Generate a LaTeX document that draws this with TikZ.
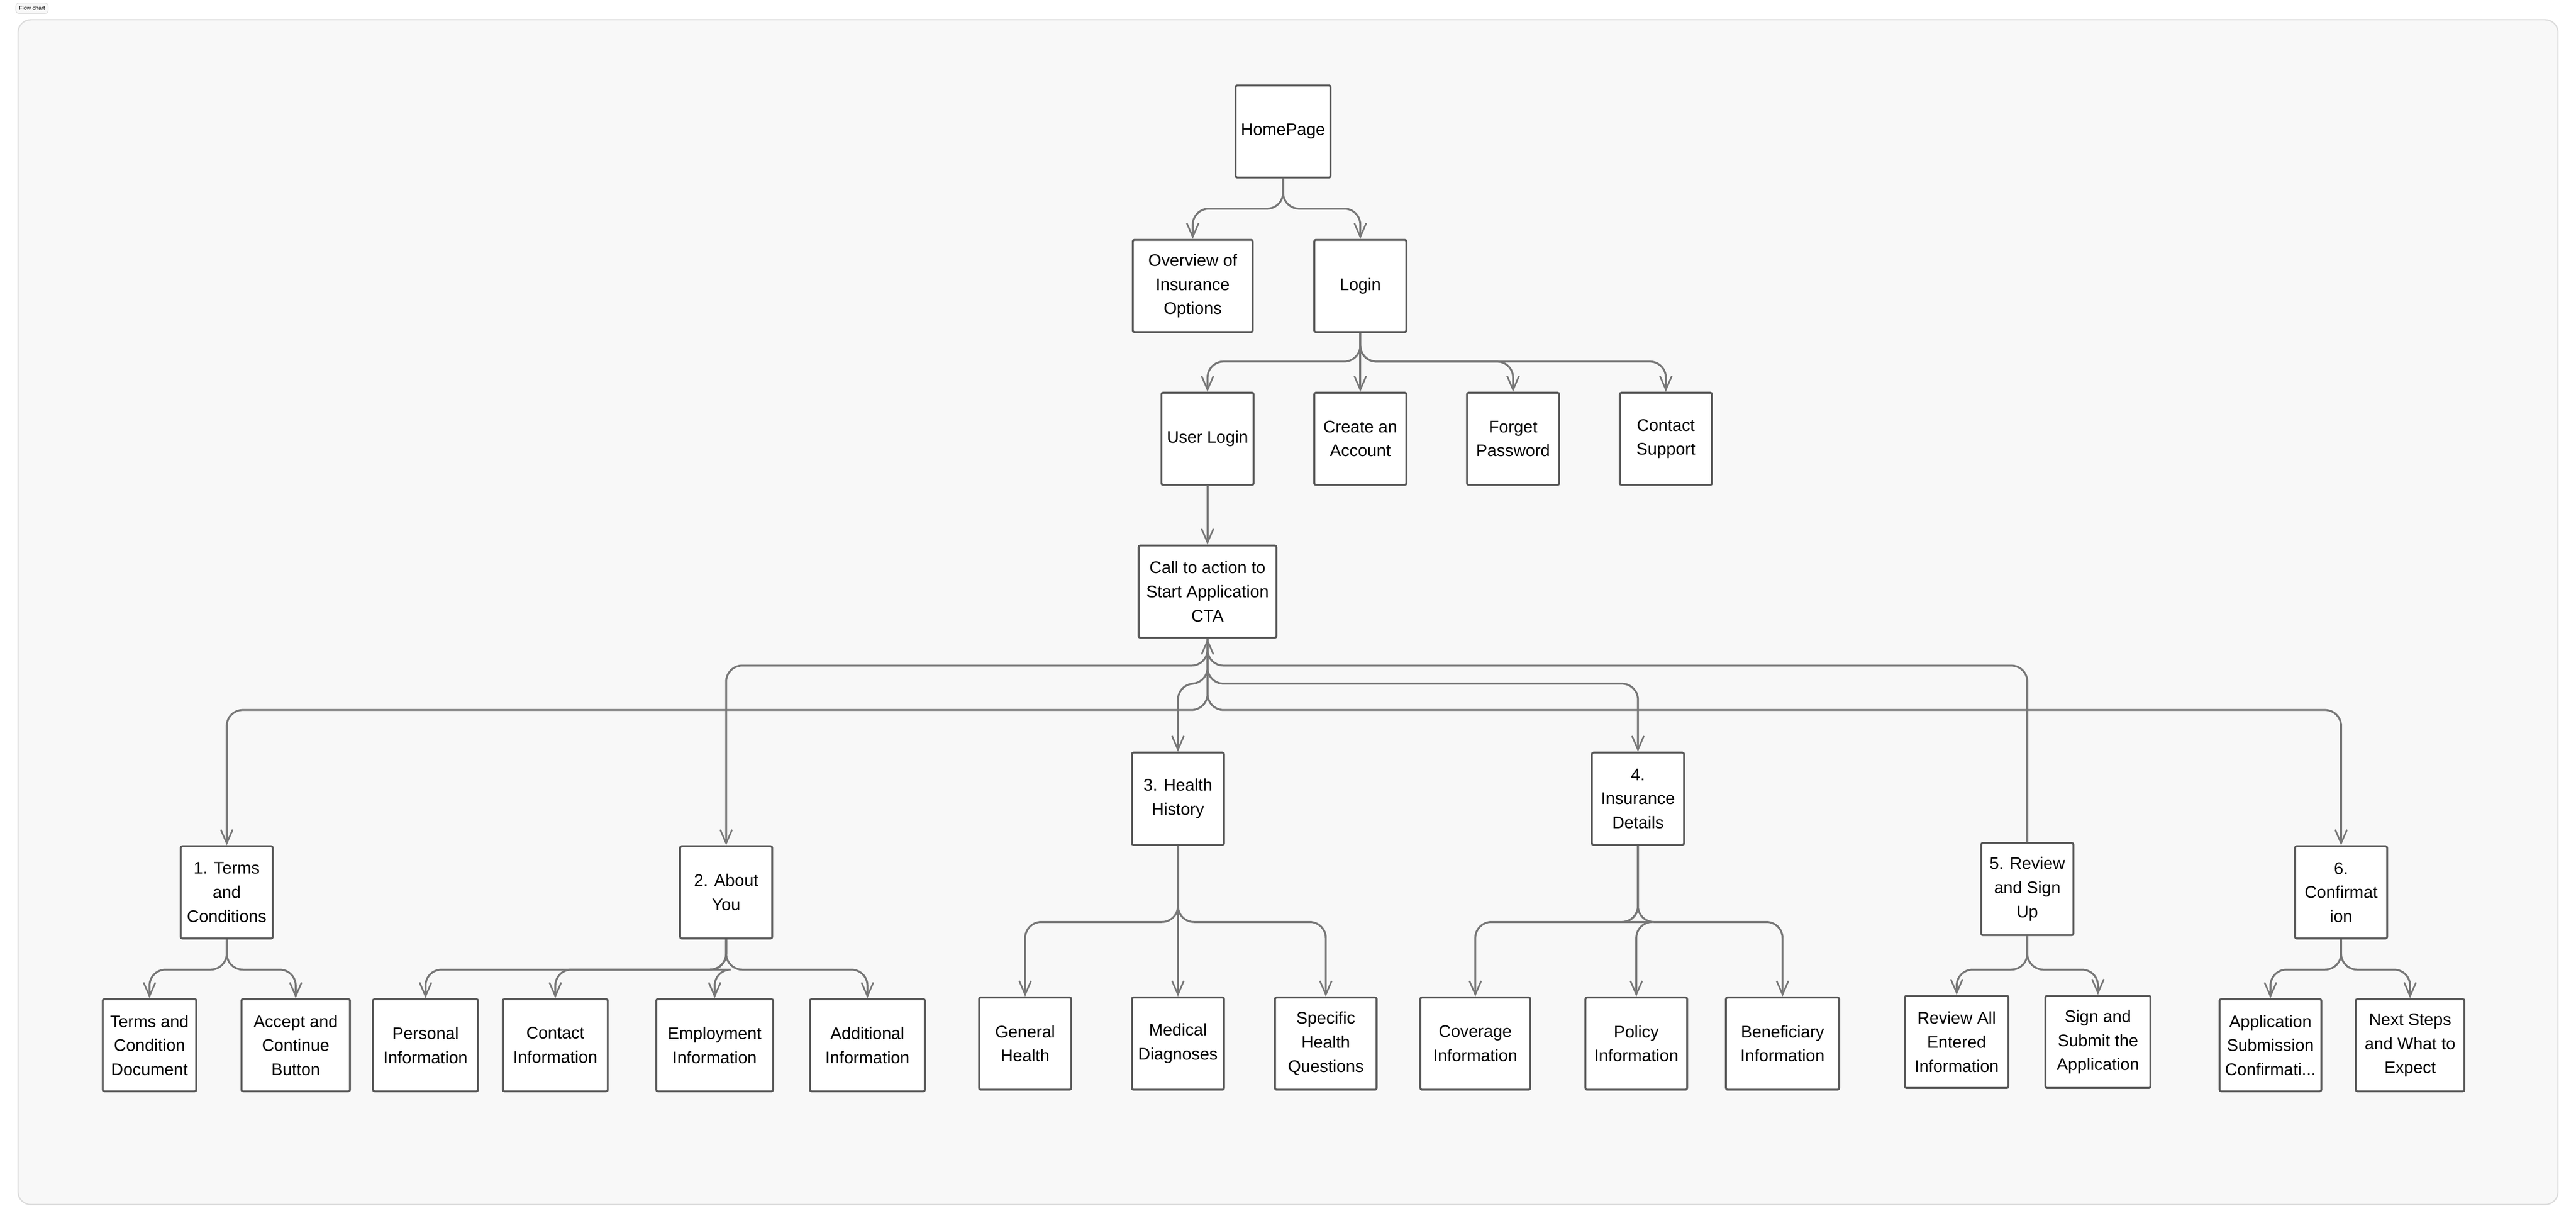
\documentclass[tikz,border=0pt]{standalone}
\usepackage{fontspec}
\setmainfont{Liberation Sans}
\usetikzlibrary{arrows.meta}
\definecolor{lgray}{RGB}{119,119,119}
\definecolor{bgray}{RGB}{248,248,248}
\definecolor{fgray}{RGB}{220,220,220}

\begin{document}
\begin{tikzpicture}[
    x=0.3602mm, y=-0.3602mm,
    box/.style={rectangle, draw=black!65, fill=white, line width=1.2pt, rounded corners=1pt,
        minimum height=20.2mm, minimum width=20.2mm, align=center, font=\fontsize{10.5}{15}\selectfont},
    conn/.style={draw=lgray, line width=1.2pt, rounded corners=10pt},
    arr/.style={conn, -{Straight Barb[length=3mm, width=2.6mm, line width=1pt]}},
    ]
\useasboundingbox (0,0) rectangle (1568,744);
\fill[white] (0,0) rectangle (1568,744);
\draw[fgray, fill=bgray, line width=0.8pt, rounded corners=8pt] (11,12) rectangle (1557,733);
\node[draw=fgray, fill=bgray, rounded corners=2pt, inner sep=2pt, font=\fontsize{3.5}{4}\selectfont] (tag) at (19.5,5) {Flow chart};

% top levels
\node[box] (home) at (781,80) {HomePage};
\node[box, minimum width=26.3mm] (overview) at (726,174) {Overview of\\Insurance\\Options};
\node[box] (login) at (828,174) {Login};
\node[box] (ulogin) at (735,267) {User Login};
\node[box] (create) at (828,267) {Create an\\Account};
\node[box] (forget) at (921,267) {Forget\\Password};
\node[box] (support) at (1014,267) {Contact\\Support};
\node[box, minimum width=30.2mm] (cta) at (735,360) {Call to action to\\Start Application\\CTA};

% steps
\node[box] (terms) at (138,543) {1. Terms\\and\\Conditions};
\node[box] (about) at (442,543) {2. About\\You};
\node[box] (health) at (717,486) {3. Health\\History};
\node[box] (insur) at (997,486) {4.\\Insurance\\Details};
\node[box] (review) at (1234,541) {5. Review\\and Sign\\Up};
\node[box] (confirm) at (1425,543) {6.\\Confirmat\\ion};

% bottom row
\node[box, minimum width=20.5mm] (tdoc) at (91,636) {Terms and\\Condition\\Document};
\node[box, minimum width=23.8mm] (accept) at (180,636) {Accept and\\Continue\\Button};
\node[box, minimum width=23mm] (personal) at (259,636) {Personal\\Information};
\node[box, minimum width=23mm] (contact) at (338,636) {Contact\\Information};
\node[box, minimum width=25.6mm] (employ) at (435,636) {Employment\\Information};
\node[box, minimum width=25.2mm] (addinfo) at (528,636) {Additional\\Information};
\node[box] (general) at (624,635) {General\\Health};
\node[box] (medical) at (717,635) {Medical\\Diagnoses};
\node[box, minimum width=22.3mm] (specific) at (807,635) {Specific\\Health\\Questions};
\node[box, minimum width=24.1mm] (coverage) at (898,635) {Coverage\\Information};
\node[box, minimum width=22.3mm] (policy) at (996,635) {Policy\\Information};
\node[box, minimum width=24.8mm] (benef) at (1085,635) {Beneficiary\\Information};
\node[box, minimum width=22.7mm] (revall) at (1191,634) {Review All\\Entered\\Information};
\node[box, minimum width=23mm] (submit) at (1277,634) {Sign and\\Submit the\\Application};
\node[box, minimum width=22.3mm] (appsub) at (1382,636) {Application\\Submission\\Confirmati...};
\node[box, minimum width=23.8mm] (next) at (1467,636) {Next Steps\\and What to\\Expect};

% bus levels
\coordinate (bHome) at (0,127);
\coordinate (bLogin) at (0,220);
\coordinate (bA) at (0,405);
\coordinate (bB) at (0,416);
\coordinate (bC) at (0,432);
\coordinate (bLow) at (0,590);
\coordinate (bMid) at (0,561);

\foreach \c in {overview,login}
    \draw[arr] (home.south) -- (home.south |- bHome) -| (\c.north);
\foreach \c in {ulogin,create,forget,support}
    \draw[arr] (login.south) -- (login.south |- bLogin) -| (\c.north);
\draw[arr] (ulogin) -- (cta);

\draw[arr] (cta.south) -- (cta.south |- bA) -| (about.north);
\draw[arr] (review.north) |- (cta.south |- bA) -- (cta.south);
\foreach \c in {health,insur}
    \draw[arr] (cta.south) -- (cta.south |- bB) -| (\c.north);
\foreach \c in {terms,confirm}
    \draw[arr] (cta.south) -- (cta.south |- bC) -| (\c.north);

\foreach \p/\c in {terms/tdoc,terms/accept,about/personal,about/contact,about/employ,about/addinfo,
        review/revall,review/submit,confirm/appsub,confirm/next}
    \draw[arr] (\p.south) -- (\p.south |- bLow) -| (\c.north);
\foreach \p/\c in {health/general,health/medical,health/specific,insur/coverage,insur/policy,insur/benef}
    \draw[arr] (\p.south) -- (\p.south |- bMid) -| (\c.north);

\end{tikzpicture}
\end{document}
